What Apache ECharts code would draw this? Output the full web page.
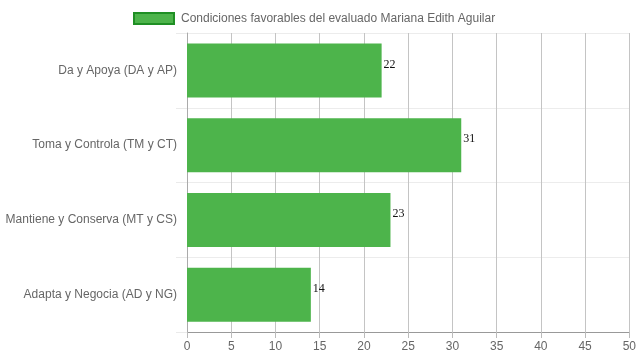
<!DOCTYPE html>
<html>
<head>
<meta charset="utf-8">
<script src="https://cdn.jsdelivr.net/npm/echarts@6/dist/echarts.min.js"></script>
<style>html,body{margin:0;padding:0;background:#fff}#c{width:639px;height:360px}</style>
</head>
<body>
<div id="c"></div>
<script>
const categories = ["Da y Apoya (DA y AP)", "Toma y Controla (TM y CT)", "Mantiene y Conserva (MT y CS)", "Adapta y Negocia (AD y NG)"];
const values = [22, 31, 23, 14];
const seriesName = "Condiciones favorables del evaluado Mariana Edith Aguilar";
const axisMin = 0, axisMax = 50, axisStep = 5;

const chart = echarts.init(document.getElementById('c'), null, {renderer: 'canvas'});
chart.setOption({
  animation: false,
  legend: {
    top: 7, left: 128,
    itemWidth: 40, itemHeight: 11, itemGap: 6,
    icon: 'rect',
    textStyle: {color: '#666', fontSize: 12, fontFamily: 'Liberation Sans, Arial, sans-serif', padding: [0, 0, 0, 2]},
    itemStyle: {borderColor: '#1f8f24', borderWidth: 2}
  },
  grid: {left: 187, right: 9, top: 33, bottom: 28, containLabel: false},
  xAxis: {
    type: 'value', min: axisMin, max: axisMax, interval: axisStep,
    axisLine: {show: true, lineStyle: {color: '#999', width: 1}},
    axisTick: {show: true, length: 6, lineStyle: {color: '#bbb'}},
    axisLabel: {color: '#666', fontSize: 12, margin: 9, fontFamily: 'Liberation Sans, Arial, sans-serif'},
    splitLine: {show: true, lineStyle: {color: '#c4c4c4', width: 1}}
  },
  yAxis: {
    type: 'category', data: categories, inverse: true,
    axisLine: {show: true, lineStyle: {color: '#aaa', width: 1}},
    axisTick: {show: true, length: 11, lineStyle: {color: '#eaeaea'}},
    axisLabel: {color: '#666', fontSize: 12, margin: 10, fontFamily: 'Liberation Sans, Arial, sans-serif'},
    splitLine: {show: true, lineStyle: {color: '#ececec', width: 1}}
  },
  series: [{
    name: seriesName,
    type: 'bar',
    data: values,
    barWidth: 54,
    itemStyle: {color: '#4db44b'},
    label: {
      show: true, position: 'right', distance: 2, offset: [0, -6],
      color: '#111', fontSize: 12, fontFamily: 'Liberation Serif, Times New Roman, serif'
    }
  }]
});
</script>
</body>
</html>
